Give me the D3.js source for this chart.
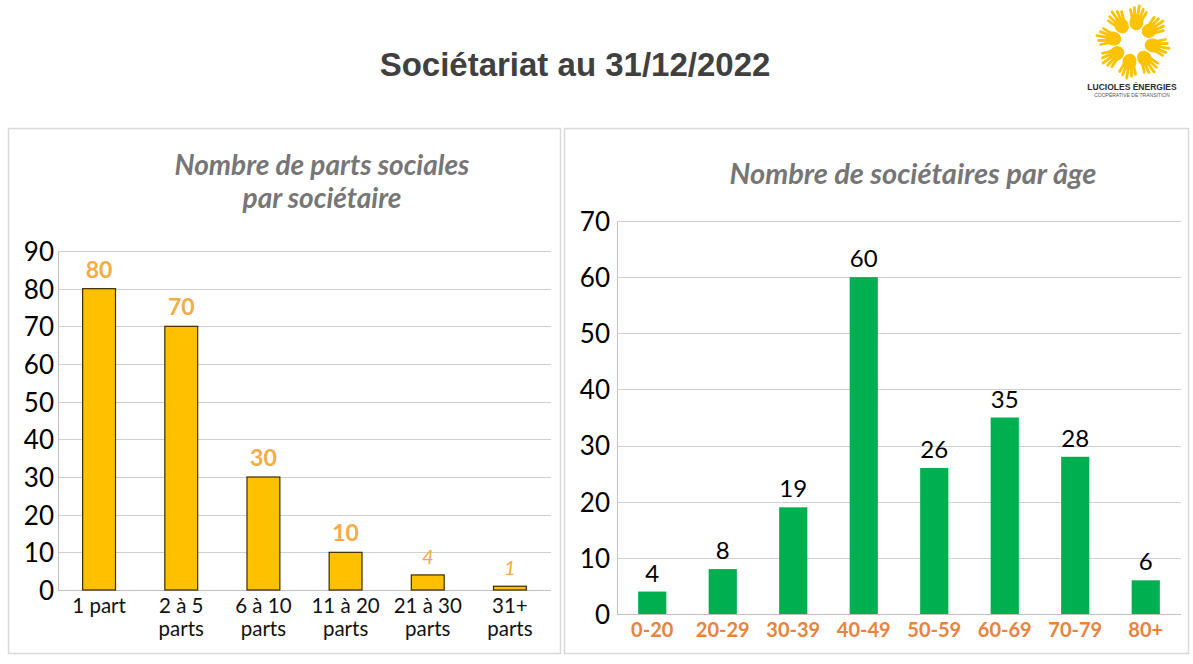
<!DOCTYPE html>
<html><head><meta charset="utf-8">
<script src="https://cdn.jsdelivr.net/npm/d3@7"></script>
<style>body{margin:0;background:#fff}svg{display:block}</style>
</head><body>
<svg id="c" width="1193" height="664"></svg>
<script>
const partsCategories = [["1 part"],["2 à 5","parts"],["6 à 10","parts"],["11 à 20","parts"],["21 à 30","parts"],["31+","parts"]];
const partsValues = [80,70,30,10,4,1];
const partsEmphasis = [true,true,true,true,false,false];
const partsTicks = [0,10,20,30,40,50,60,70,80,90];

const ageCategories = ["0-20","20-29","30-39","40-49","50-59","60-69","70-79","80+"];
const ageValues = [4,8,19,60,26,35,28,6];
const ageTicks = [0,10,20,30,40,50,60,70];

const svg = d3.select("#c");

// main title
svg.append("text").attr("x",575).attr("y",76).attr("text-anchor","middle")
  .attr("font-family","Liberation Sans, Arial, sans-serif").attr("font-weight","bold")
  .attr("font-size",33).attr("fill","#404040").text("Sociétariat au 31/12/2022");

// panels
svg.append("rect").attr("x",8.5).attr("y",128.5).attr("width",552).attr("height",525)
  .attr("fill","none").attr("stroke","#d9d9d9").attr("stroke-width",1.5);
svg.append("rect").attr("x",564.5).attr("y",128.5).attr("width",624).attr("height",525)
  .attr("fill","none").attr("stroke","#d9d9d9").attr("stroke-width",1.5);

// logo
const logo = svg.append("g").attr("transform","translate(1133,42)");
const nH = 8;
for (let i=0;i<nH;i++){
  const a = i*360/nH + 10;
  const h = logo.append("g").attr("transform",`rotate(${a}) translate(0,-20)`);
  h.append("ellipse").attr("cx",0).attr("cy",0).attr("rx",7).attr("ry",8).attr("fill","#FDC300");
  [-6,-3,0,3,6].forEach((dx)=>{
    h.append("rect").attr("x",dx-1.4).attr("y",-18+Math.abs(dx)*0.8).attr("width",2.8).attr("height",12).attr("rx",1.4).attr("fill","#FDC300")
      .attr("transform",`rotate(${dx*3.5},${dx},-6)`);
  });
}
svg.append("text").attr("x",1132).attr("y",90).attr("text-anchor","middle")
  .attr("font-family","Liberation Sans, Arial, sans-serif").attr("font-weight","bold")
  .attr("font-size",8.5).attr("fill","#2b2b2b").text("LUCIOLES ÉNERGIES");
svg.append("text").attr("x",1132).attr("y",97).attr("text-anchor","middle")
  .attr("font-family","Liberation Sans, Arial, sans-serif")
  .attr("font-size",5).attr("fill","#555").text("COOPÉRATIVE DE TRANSITION");

// ---------- Left chart ----------
const L = {x0:58, x1:551, y0:590, y1:251};
const xL = d3.scaleBand().domain(d3.range(partsValues.length)).range([L.x0,L.x1]).paddingInner(0.6).paddingOuter(0.3);
const yL = d3.scaleLinear().domain([0,90]).range([L.y0,L.y1]);
const gL = svg.append("g");

gL.append("text").attr("text-anchor","middle").attr("font-family","Lato, sans-serif")
  .attr("font-style","italic").attr("font-weight","bold").attr("font-size",28).attr("fill","#767676")
  .selectAll("tspan").data(["Nombre de parts sociales","par sociétaire"]).join("tspan")
  .attr("x",322).attr("y",(d,i)=>175+i*33).text(d=>d);

gL.append("g").selectAll("line").data(partsTicks.slice(1)).join("line")
  .attr("x1",L.x0).attr("x2",L.x1).attr("y1",d=>Math.round(yL(d))+0.5).attr("y2",d=>Math.round(yL(d))+0.5)
  .attr("stroke","#d0d0d0").attr("stroke-width",1);

const axL = d3.axisLeft(yL).tickValues(partsTicks).tickSize(0).tickPadding(4);
const aL = gL.append("g").attr("transform",`translate(${L.x0},0)`).call(axL);
aL.select(".domain").attr("stroke","#bfbfbf");
aL.selectAll("text").attr("font-family","Lato, sans-serif").attr("font-size",26).attr("fill","#000").attr("dy","0.36em");

gL.append("line").attr("x1",L.x0).attr("x2",L.x1).attr("y1",L.y0+0.5).attr("y2",L.y0+0.5).attr("stroke","#bfbfbf");

gL.selectAll("rect.bar").data(partsValues).join("rect").attr("class","bar")
  .attr("x",(d,i)=>xL(i)).attr("width",xL.bandwidth())
  .attr("y",d=>yL(d)).attr("height",d=>yL(0)-yL(d))
  .attr("fill","#FFC000").attr("stroke","#3a2a00").attr("stroke-width",1.2);

gL.selectAll("text.val").data(partsValues).join("text").attr("class","val")
  .attr("x",(d,i)=>xL(i)+xL.bandwidth()/2).attr("y",d=>yL(d)-11)
  .attr("text-anchor","middle").attr("font-family","Lato, sans-serif")
  .attr("font-weight",(d,i)=>partsEmphasis[i]?"bold":"normal")
  .attr("font-style",(d,i)=>partsEmphasis[i]?"normal":"italic")
  .attr("font-size",(d,i)=>partsEmphasis[i]?23:20)
  .attr("fill","#F4AB45").text(d=>d);

const catL = gL.selectAll("text.cat").data(partsCategories).join("text").attr("class","cat")
  .attr("text-anchor","middle").attr("font-family","Lato, sans-serif").attr("font-size",20.5).attr("fill","#111");
catL.selectAll("tspan").data((d,i)=>d.map(t=>({t,i}))).join("tspan")
  .attr("x",d=>xL(d.i)+xL.bandwidth()/2).attr("y",(d,j)=>613+j*23).text(d=>d.t);

// ---------- Right chart ----------
const R = {x0:617, x1:1181, y0:614, y1:221};
const xR = d3.scaleBand().domain(ageCategories).range([R.x0,R.x1]).paddingInner(0.6).paddingOuter(0.3);
const yR = d3.scaleLinear().domain([0,70]).range([R.y0,R.y1]);
const gR = svg.append("g");

gR.append("text").attr("x",913).attr("y",184).attr("text-anchor","middle").attr("font-family","Lato, sans-serif")
  .attr("font-style","italic").attr("font-weight","bold").attr("font-size",29).attr("fill","#767676")
  .text("Nombre de sociétaires par âge");

gR.append("g").selectAll("line").data(ageTicks.slice(1)).join("line")
  .attr("x1",R.x0).attr("x2",R.x1).attr("y1",d=>Math.round(yR(d))+0.5).attr("y2",d=>Math.round(yR(d))+0.5)
  .attr("stroke","#d0d0d0").attr("stroke-width",1);

const axR = d3.axisLeft(yR).tickValues(ageTicks).tickSize(0).tickPadding(7);
const aR = gR.append("g").attr("transform",`translate(${R.x0},0)`).call(axR);
aR.select(".domain").attr("stroke","#bfbfbf");
aR.selectAll("text").attr("font-family","Lato, sans-serif").attr("font-size",26).attr("fill","#000").attr("dy","0.36em");

gR.append("line").attr("x1",R.x0).attr("x2",R.x1).attr("y1",R.y0+0.5).attr("y2",R.y0+0.5).attr("stroke","#bfbfbf");

gR.selectAll("rect.bar").data(ageValues).join("rect").attr("class","bar")
  .attr("x",(d,i)=>xR(ageCategories[i])).attr("width",xR.bandwidth())
  .attr("y",d=>yR(d)).attr("height",d=>yR(0)-yR(d))
  .attr("fill","#00B050");

gR.selectAll("text.val").data(ageValues).join("text").attr("class","val")
  .attr("x",(d,i)=>xR(ageCategories[i])+xR.bandwidth()/2).attr("y",d=>yR(d)-10)
  .attr("text-anchor","middle").attr("font-family","Lato, sans-serif").attr("font-size",24).attr("fill","#000").text(d=>d);

gR.selectAll("text.cat").data(ageCategories).join("text").attr("class","cat")
  .attr("x",d=>xR(d)+xR.bandwidth()/2).attr("y",637)
  .attr("text-anchor","middle").attr("font-family","Lato, sans-serif").attr("font-weight","bold")
  .attr("font-size",20).attr("fill","#E8823D").text(d=>d);
</script>
</body></html>
